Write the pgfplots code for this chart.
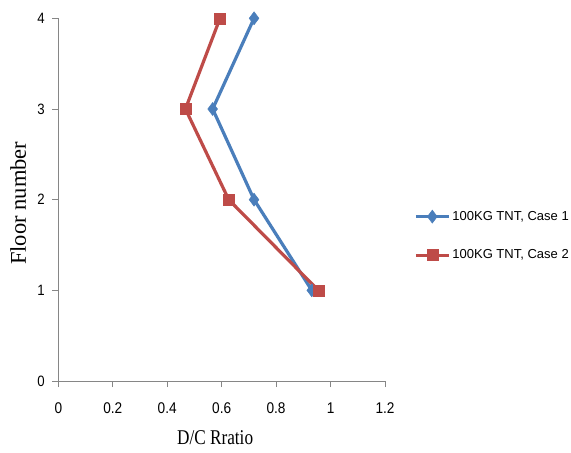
\documentclass[border=0pt]{standalone}
\usepackage{fontspec}
\setmainfont{Liberation Sans}
\newfontfamily\tickfont[FakeStretch=0.88]{Liberation Sans}
\newfontfamily\labfont{Liberation Serif}
\newfontfamily\labfontx[FakeStretch=0.82]{Liberation Serif}
\usepackage{pgfplots}
\pgfplotsset{compat=1.18}
\definecolor{exblue}{HTML}{4A7EBB}
\definecolor{exred}{HTML}{BE4B48}
\definecolor{axgray}{HTML}{868686}
\pgfplotstableread{
x y
0.931 1
0.719 2
0.567 3
0.719 4
}\caseone
\pgfplotstableread{
x y
0.955 1
0.626 2
0.467 3
0.594 4
}\casetwo
\begin{document}
\begin{tikzpicture}
\useasboundingbox (-58.3bp,-72bp) rectangle (512.7bp,381bp);
\begin{axis}[
  scale only axis,
  width=326.7bp, height=362.7bp,
  xmin=0, xmax=1.2, ymin=0, ymax=4,
  xtick={0,0.2,...,1.2},
  ytick={0,1,2,3,4},
  axis lines=left,
  axis line style={-, draw=axgray, line width=0.9bp},
  tick style={draw=axgray, line width=0.9bp},
  tick align=outside,
  major tick length=6bp,
  /pgf/number format/assume math mode=true,
  xticklabel style={font=\tickfont\fontsize{15.5bp}{18bp}\selectfont, yshift=-12bp},
  yticklabel style={font=\tickfont\fontsize{15bp}{18bp}\selectfont, xshift=-4bp},
  xlabel={\labfontx\fontsize{21bp}{24bp}\selectfont D/C Rratio},
  ylabel={\labfont\fontsize{22.5bp}{26bp}\selectfont Floor number},
  xlabel style={at={(rel axis cs:0.48,0)}, anchor=center, yshift=-57bp},
  ylabel style={at={(rel axis cs:0,0.49)}, anchor=center, rotate=0, yshift=40bp},
  clip=false,
  legend cell align=left,
  legend style={draw=none, fill=none, at={(rel axis cs:1.329,0.40)}, anchor=center,
    font=\fontsize{13bp}{15bp}\selectfont, row sep=24bp, inner sep=0pt},
  legend image code/.code={\draw[mark repeat=2,mark phase=2,#1] plot coordinates {(0bp,0bp) (16.5bp,0bp) (33bp,0bp)};},
]
\addplot[color=exblue, line width=3.2bp, mark=diamond*, mark size=6.5bp, mark options={solid, line width=0.5bp, fill=exblue}] table[x=x,y=y] {\caseone};
\addlegendentry{100KG TNT, Case 1}
\addplot[color=exred, line width=3.2bp, mark=square*, mark size=5.5bp, mark options={solid, line width=0.5bp, fill=exred}] table[x=x,y=y] {\casetwo};
\addlegendentry{100KG TNT, Case 2}
\end{axis}
\end{tikzpicture}
\end{document}
